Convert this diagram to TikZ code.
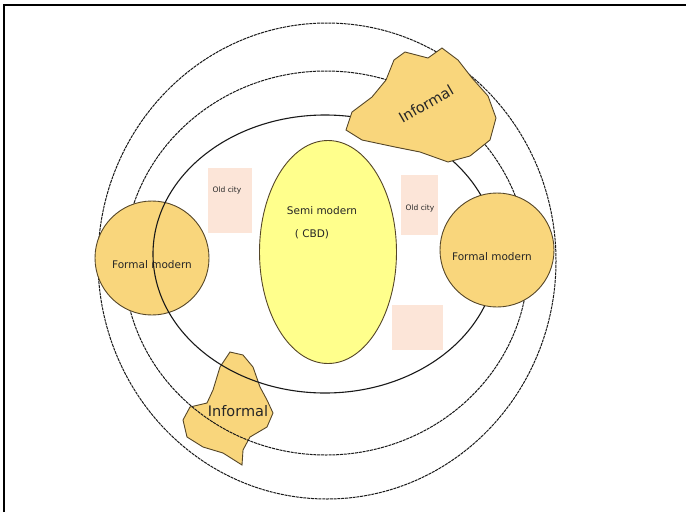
\documentclass[tikz,border=0pt]{standalone}
\usepackage{fontspec}
\setmainfont{DejaVu Sans}
\usepackage{xcolor}
\usepackage{tikz}
\usetikzlibrary{shapes.geometric}
\definecolor{zoneorange}{RGB}{249,214,124}
\definecolor{cbdyellow}{RGB}{255,255,140}
\definecolor{oldpeach}{RGB}{252,229,216}
\definecolor{edgebrown}{RGB}{85,70,40}
\tikzset{
  ring/.style={dash pattern=on 3pt off 0.8pt, draw=black!90, line width=1pt},
  corering/.style={draw=black!90, line width=1.1pt},
  fzone/.style={circle, draw=edgebrown, line width=0.9pt, fill=zoneorange, minimum size=114pt, inner sep=0pt},
  cbd/.style={ellipse, draw=edgebrown, line width=0.9pt, fill=cbdyellow, minimum width=137pt, minimum height=223pt, inner sep=0pt},
  oldblk/.style={rectangle, fill=oldpeach, inner sep=0pt},
  slum/.style={draw=edgebrown, line width=0.9pt, fill=zoneorange},
  zlabel/.style={font=\fontsize{10.5}{12}\selectfont, text=black!85, inner sep=0pt},
  oldlabel/.style={font=\fontsize{7.5}{9}\selectfont, text=black!85, inner sep=0pt},
  slumlabel/.style={font=\fontsize{14.5}{16}\selectfont, text=black!85, inner sep=0pt},
}

\begin{document}
\begin{tikzpicture}[x=1pt, y=-1pt]
\useasboundingbox (0,0) rectangle (686,512);
% frame
\draw[line width=2pt] (4,512) -- (4,5) -- (686,5);
% informal settlement, south-west
\draw[slum] plot coordinates {(230,352) (220,367) (213,390) (207,403) (190,407) (183,420) (187,437) (203,447) (223,453) (242,465) (243,450) (250,437) (267,427) (273,413) (267,400) (260,387) (253,367) (243,355)} -- cycle;
% outer zones
\draw[ring] (327,261) ellipse [x radius=229, y radius=238];
\draw[ring] (326,263) ellipse [x radius=202, y radius=192];
\node[fzone] (fmw) at (152,258) {};
\draw[corering] (325,254) ellipse [x radius=172, y radius=139];
\node[fzone] (fme) at (497,250) {};
% informal settlement, north-east
\draw[slum] plot coordinates {(346,130) (352,112) (372,97) (386,80) (394,60) (405,52) (428,58) (442,48) (458,60) (472,78) (488,96) (496,118) (490,140) (470,156) (448,162) (420,152) (395,147) (362,140)} -- cycle;
% old city blocks
\node[oldblk, minimum width=44pt, minimum height=65pt] (ocw) at (230,200) {};
\node[oldblk, minimum width=37pt, minimum height=60pt] (oce) at (419,205) {};
\node[oldblk, minimum width=51pt, minimum height=45pt] (ocs) at (417,327) {};
% city centre
\node[cbd] (cbd) at (328,252) {};
% labels
\node[zlabel] (fmwt) at (152,265) {Formal modern};
\node[zlabel] (fmet) at (492,257) {Formal modern};
\node[zlabel] (cbdt) at (322,211) {Semi modern};
\node[zlabel] (cbdt2) at (312,234) {( CBD)};
\node[oldlabel] (ocwt) at (227,190) {Old city};
\node[oldlabel] (ocet) at (420,208) {Old city};
\node[slumlabel, rotate=30] (infn) at (426,104) {Informal};
\node[slumlabel] (infs) at (238,411) {Informal};
\end{tikzpicture}
\end{document}
